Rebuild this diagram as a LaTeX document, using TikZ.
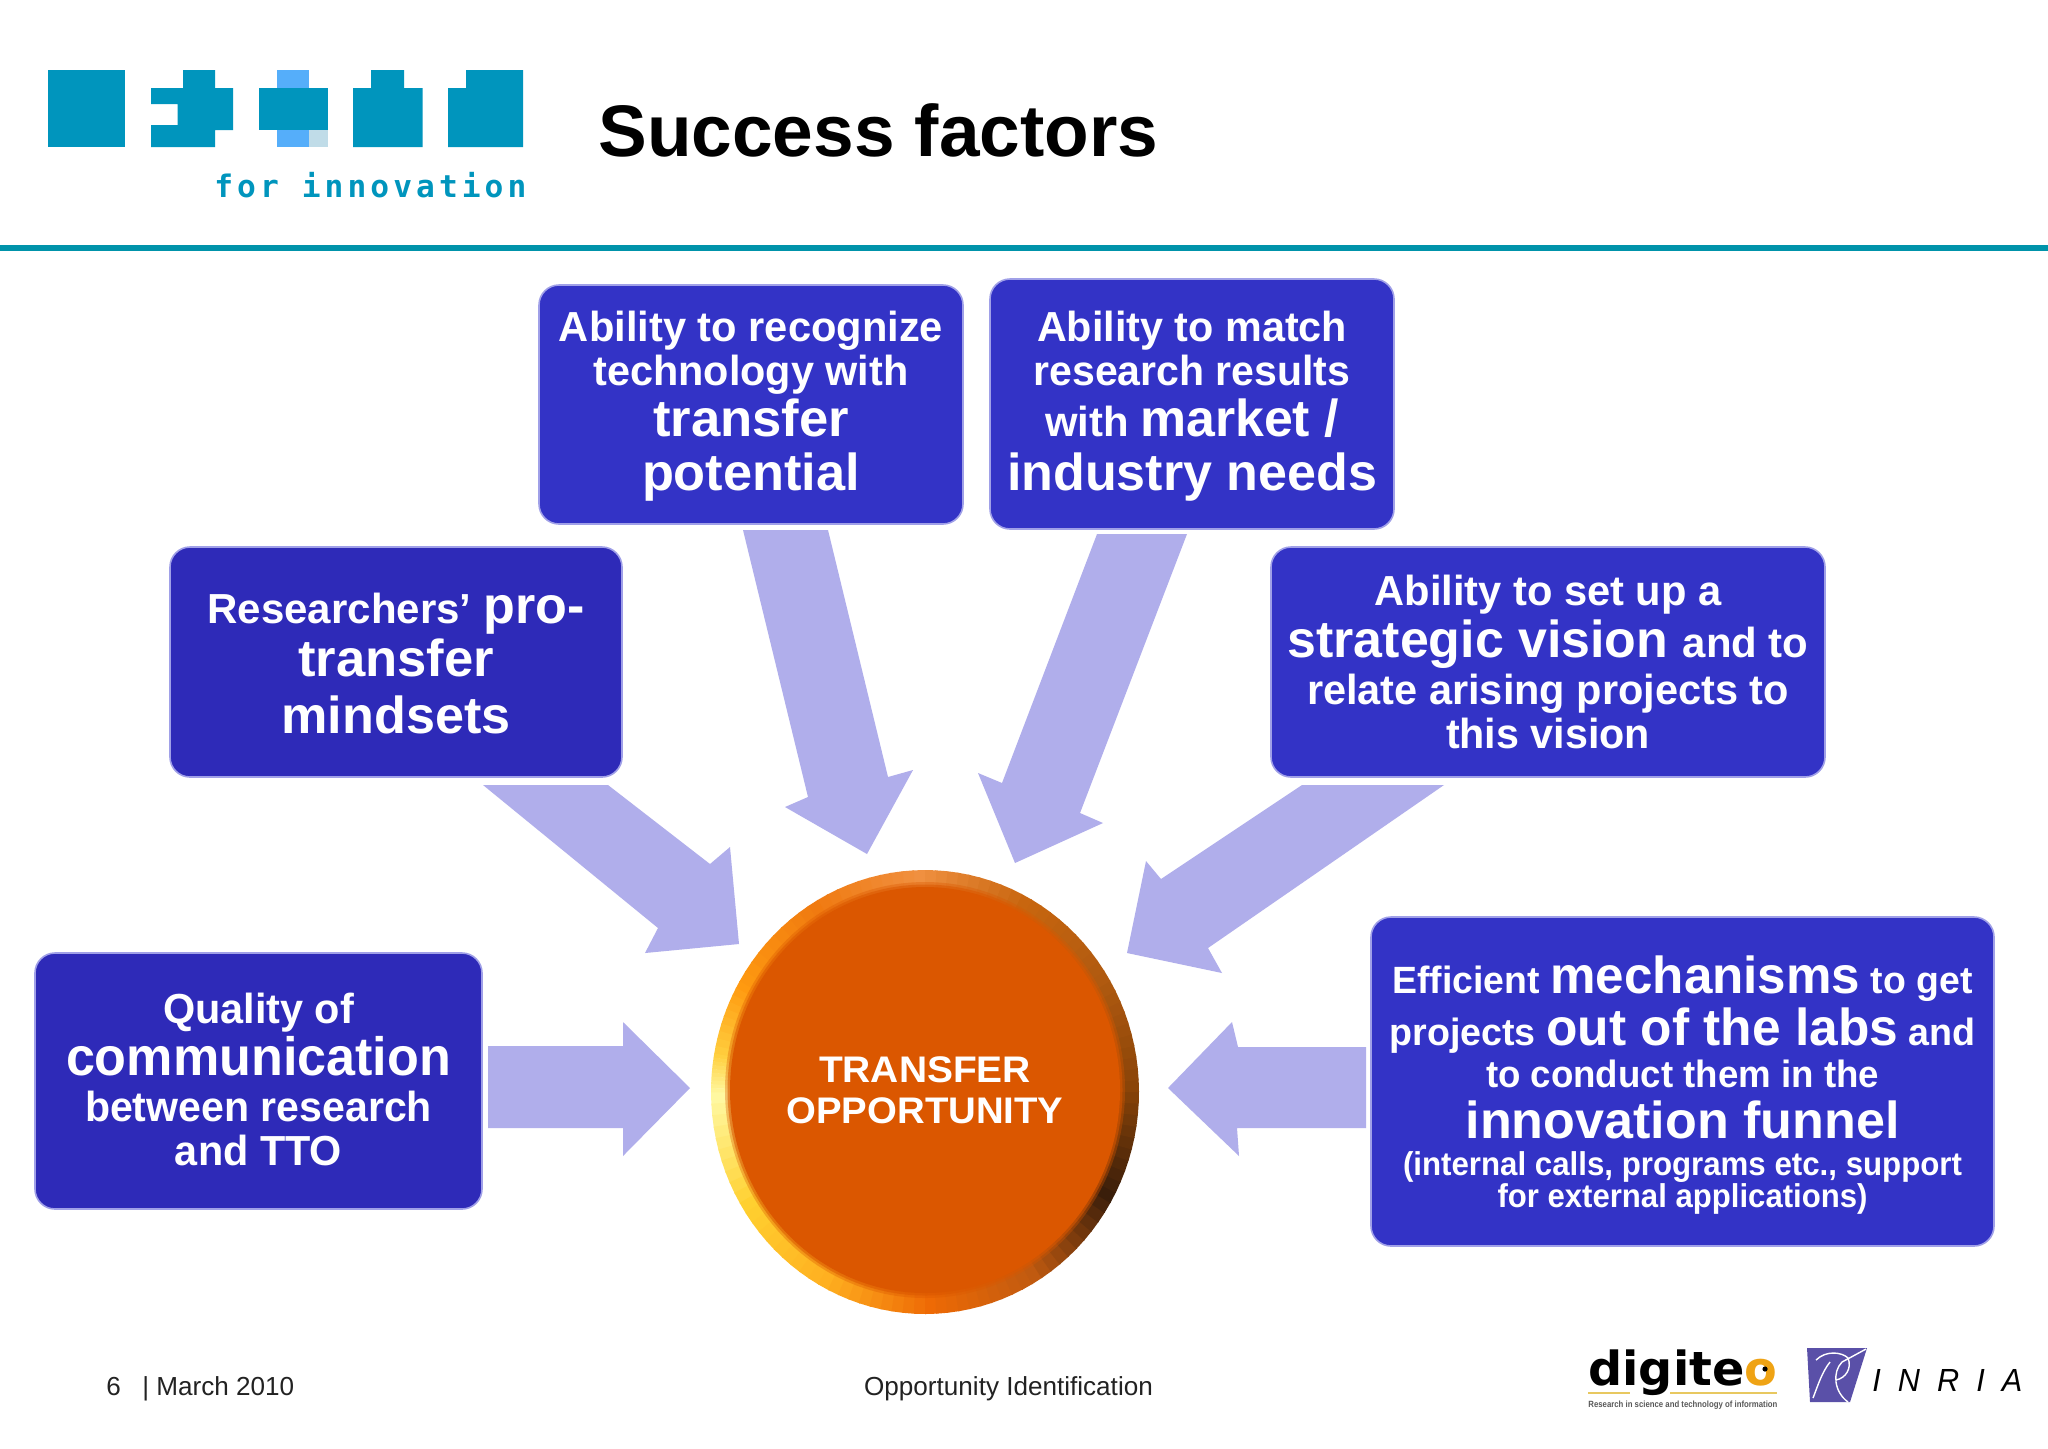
\documentclass[tikz,border=0pt]{standalone}
\usepackage{fontspec}
\usetikzlibrary{shapes.geometric}
\setmainfont{Liberation Sans}
\newfontfamily\logomono[LetterSpace=13]{DejaVu Sans Mono}
\newfontfamily\digifont{DejaVu Sans}
\newdimen\pxu \pxu=.5pt
\newdimen\pxv
\newcommand\fs[1]{\pxv=#1\pxu\fontsize{\the\pxv}{\the\pxv}\selectfont}
% one line of a text stack: step from previous baseline, width in px, content
\newcommand\tl[3]{\hbox to 0pt{\hss\rule{0pt}{#1\pxu}\smash{\resizebox{#2\pxu}{\height}{#3}}\hss}}
\newcommand\stack[2]{\vbox{\offinterlineskip #1\vskip#2\pxu}}
\definecolor{tealbar}{HTML}{0093AA}
\definecolor{logoteal}{HTML}{0095BD}
\definecolor{logolight}{HTML}{55AEFA}
\definecolor{logopale}{HTML}{C0DCE8}
\definecolor{boxdark}{HTML}{2E2AB8}
\definecolor{boxmid}{HTML}{3333C6}
\definecolor{boxedge}{HTML}{A0A0E8}
\definecolor{flowc}{HTML}{B0AEEB}
\definecolor{discc}{HTML}{DB5700}
\definecolor{footc}{HTML}{222222}
\definecolor{rA}{HTML}{FFF8A0}
\definecolor{rB}{HTML}{FFD030}
\definecolor{rC}{HTML}{FFB020}
\definecolor{rD}{HTML}{EE6A05}
\definecolor{rE}{HTML}{C05A10}
\definecolor{rF}{HTML}{3A1E0A}
\definecolor{rG}{HTML}{8A4408}
\definecolor{rH}{HTML}{B05A10}
\definecolor{rI}{HTML}{C8660F}
\definecolor{rJ}{HTML}{F09040}
\definecolor{rK}{HTML}{F07A10}
\definecolor{rL}{HTML}{FF9A10}
\definecolor{rM}{HTML}{FFD040}
\definecolor{inriap}{HTML}{5A50A8}
\definecolor{digio}{HTML}{EFA314}
\definecolor{digil}{HTML}{E8C860}
\tikzset{
  box/.style={draw=boxedge,line width=.8pt,rounded corners=10pt,inner sep=0pt,outer sep=0pt,text=white,font=\bfseries},
  boxL/.style={box,fill=boxdark},
  boxR/.style={box,fill=boxmid},
  flow/.style={fill=flowc},
  logob/.style={fill=logoteal},
  foot/.style={anchor=base west,inner sep=0pt,text=footc,font=\fs{26.1}},
}
\begin{document}
\begin{tikzpicture}[x=.5pt,y=-.5pt]
\fill[white] (0,0) rectangle (2048,1448);
\useasboundingbox (0,0) rectangle (2048,1448);
% header logo
\fill[logob] (48,70) rectangle (125,147);
\fill[logob] (151,88) -- (183,88) -- (183,70) -- (215,70) -- (215,88) -- (233,88) -- (233,130) -- (215,130) -- (215,147) -- (151,147) -- (151,125) -- (177.5,125) -- (177.5,104) -- (151,104) -- cycle;
\fill[logolight] (277,70) rectangle (309,147);
\fill[logopale] (309,130) rectangle (327.5,147);
\fill[logob] (259,88) rectangle (327.5,130);
\fill[logob] (353,88) -- (371,88) -- (371,70) -- (404,70) -- (404,88) -- (422.5,88) -- (422.5,147) -- (353,147) -- cycle;
\fill[logob] (448,88) -- (466,88) -- (466,70) -- (523,70) -- (523,147) -- (448,147) -- cycle;
\node[anchor=base west,inner sep=0pt,text=logoteal] (tagline) at (214,197) {\resizebox{312\pxu}{\height}{\fs{31}\logomono\bfseries for innovation}};
\fill[tealbar] (0,245) rectangle (2048,251);
\node[anchor=base west,inner sep=0pt,font=\bfseries\fs{73}] (title) at (598,156) {Success factors};
% hub rim
\foreach \aa/\ab/\ca/\cb in {-180/-150/rA/rB,-150/-120/rB/rC,-120/-90/rC/rD,-90/-60/rD/rE,-60/-30/rE/rF,-30/0/rF/rG,0/30/rG/rH,30/60/rH/rI,60/90/rI/rJ,90/120/rJ/rK,120/150/rK/rL,150/170/rL/rM,170/180/rM/rA}{
  \foreach \t in {0,10,...,90}{
    \pgfmathsetmacro\xa{\aa+(\ab-\aa)*\t/100}
    \pgfmathsetmacro\xb{\aa+(\ab-\aa)*(\t+11)/100}
    \fill[\cb!\t!\ca] (925,1092) -- ({925+214*cos(\xa)},{1092-222*sin(\xa)}) -- ({925+214*cos(\xb)},{1092-222*sin(\xb)}) -- cycle;
  }
}
\fill[discc,opacity=.35] (925,1090) ellipse [x radius=200,y radius=208];
\fill[discc,opacity=.55] (925,1090) ellipse [x radius=197.5,y radius=205.5];
\node[ellipse,fill=discc,inner sep=0pt,minimum width=195pt,minimum height=203pt,text=white,font=\bfseries] (hub) at (925,1090)
  {\stack{\tl{30}{212}{\fs{37}TRANSFER}\tl{41}{277}{\fs{37}OPPORTUNITY}}{5}};
% factor boxes
\node[boxR,minimum width=212pt,minimum height=119.5pt] (b1) at (751,404.5) {\stack{%
  \tl{56}{384}{\fs{42}Ability to recognize}%
  \tl{44}{315}{\fs{42}technology with}%
  \tl{51}{196}{\fs{52}transfer}%
  \tl{54}{218}{\fs{52}potential}}{34}};
\node[boxR,minimum width=202pt,minimum height=125pt] (b2) at (1192,404) {\stack{%
  \tl{62}{310}{\fs{42}Ability to match}%
  \tl{44}{317}{\fs{42}research results}%
  \tl{51}{294}{\fs{42}with {\fs{52}market /}}%
  \tl{54}{370}{\fs{52}industry needs}}{39}};
\node[boxL,minimum width=226pt,minimum height=115pt] (b3) at (396,662) {\stack{%
  \tl{76}{377}{\fs{42}Researchers’ {\fs{52}pro-}}%
  \tl{53.5}{196}{\fs{52}transfer}%
  \tl{56.5}{229}{\fs{52}mindsets}}{44}};
\node[boxR,minimum width=277pt,minimum height=115pt] (b4) at (1548,662) {\stack{%
  \tl{58}{347}{\fs{42}Ability to set up a}%
  \tl{52}{521}{\fs{52}strategic vision {\fs{42}and to}}%
  \tl{47}{482}{\fs{42}relate arising projects to}%
  \tl{44}{204}{\fs{42}this vision}}{29}};
\node[boxL,minimum width=223.5pt,minimum height=128pt] (b5) at (258.5,1081) {\stack{%
  \tl{70}{191}{\fs{42}Quality of}%
  \tl{52}{385}{\fs{54}communication}%
  \tl{46}{347}{\fs{42}between research}%
  \tl{44}{167}{\fs{42}and TTO}}{44}};
\node[boxR,minimum width=311.5pt,minimum height=164.5pt] (b6) at (1682.5,1081.5) {\stack{%
  \tl{76}{580}{\fs{38}Efficient {\fs{52}mechanisms} to get}%
  \tl{52}{586}{\fs{38}projects {\fs{52}out of the labs} and}%
  \tl{42}{393}{\fs{38}to conduct them in the}%
  \tl{51}{434}{\fs{52}innovation funnel}%
  \tl{37}{559}{\fs{33}(internal calls, programs etc., support}%
  \tl{32}{370}{\fs{33}for external applications)}}{39}};
% block arrows
\fill[flow] ([shift={(-8,6)}]b1.south) -- ([shift={(77,6)}]b1.south) -- ([shift={(-37,-313)}]hub.center) -- ([shift={(-12,-320)}]hub.center) -- ([shift={(-58,-236)}]hub.center) -- ([shift={(-140,-283)}]hub.center) -- ([shift={(-117,-293)}]hub.center) -- cycle;
\fill[flow] ([shift={(87,8)}]b3.south) -- ([shift={(212,8)}]b3.south) -- ([shift={(-215,-226)}]hub.center) -- ([shift={(-195,-243)}]hub.center) -- ([shift={(-186,-146)}]hub.center) -- ([shift={(-280,-137)}]hub.center) -- ([shift={(-267,-162)}]hub.center) -- cycle;
\fill[flow] ([shift={(-95,5)}]b2.south) -- ([shift={(-5,5)}]b2.south) -- ([shift={(155,-277)}]hub.center) -- ([shift={(178,-267)}]hub.center) -- ([shift={(90,-227)}]hub.center) -- ([shift={(53,-317)}]hub.center) -- ([shift={(77,-307)}]hub.center) -- cycle;
\fill[flow] ([shift={(-246,8)}]b4.south) -- ([shift={(-104,8)}]b4.south) -- ([shift={(283,-142)}]hub.center) -- ([shift={(297,-117)}]hub.center) -- ([shift={(202,-137)}]hub.center) -- ([shift={(221,-229)}]hub.center) -- ([shift={(236,-211)}]hub.center) -- cycle;
\fill[flow] ([shift={(6,-35)}]b5.east) -- ([shift={(-302,-44)}]hub.center) -- ([shift={(-302,-68)}]hub.center) -- ([shift={(-235,-2)}]hub.center) -- ([shift={(-302,66)}]hub.center) -- ([shift={(-302,38)}]hub.center) -- ([shift={(6,47)}]b5.east) -- cycle;
\fill[flow] ([shift={(-5,-34.5)}]b6.west) -- ([shift={(313,-43)}]hub.center) -- ([shift={(307,-68)}]hub.center) -- ([shift={(243,-2)}]hub.center) -- ([shift={(314,66)}]hub.center) -- ([shift={(312,38)}]hub.center) -- ([shift={(-5,46.5)}]b6.west) -- cycle;
% footer
\node[foot] (fnum) at (106,1395) {6};
\node[foot] (fdate) at (142,1395) {| March 2010};
\node[foot,anchor=base] (ftitle) at (1008.5,1395) {Opportunity Identification};
% digiteo logo
\node[anchor=base west,inner sep=0pt] (digi) at (1588,1385) {\resizebox{189\pxu}{\height}{\fs{47}\digifont\bfseries digite\textcolor{digio}{o}}};
\fill[black] (1765,1369) circle (2.6);
\draw[digil,line width=.6pt] (1588,1393) -- (1630,1393) (1670,1393) -- (1777,1393);
\node[anchor=base west,inner sep=0pt,text=black!65] (digitag) at (1588,1407) {\resizebox{189\pxu}{\height}{\fs{9}\bfseries Research in science and technology of information}};
% inria logo
\fill[inriap] (1807,1348) -- (1867,1348) -- (1850,1402) -- (1810,1402) -- cycle;
\draw[white,line width=.7pt] (1816,1360) .. controls (1826,1350) and (1842,1352) .. (1848,1358) (1866,1349) -- (1842,1362) .. controls (1832,1372) and (1834,1392) .. (1848,1402);
\draw[white,line width=.7pt] (1830,1362) .. controls (1822,1372) and (1818,1385) .. (1813,1398);
\draw[white,line width=.7pt] (1848,1358) .. controls (1852,1368) and (1846,1378) .. (1836,1380);
\node[anchor=base west,inner sep=0pt] (inria) at (1872,1391) {\resizebox{150\pxu}{\height}{\fs{32}\itshape I\;\;N\;\;R\;\;I\;\;A}};
\end{tikzpicture}
\end{document}
